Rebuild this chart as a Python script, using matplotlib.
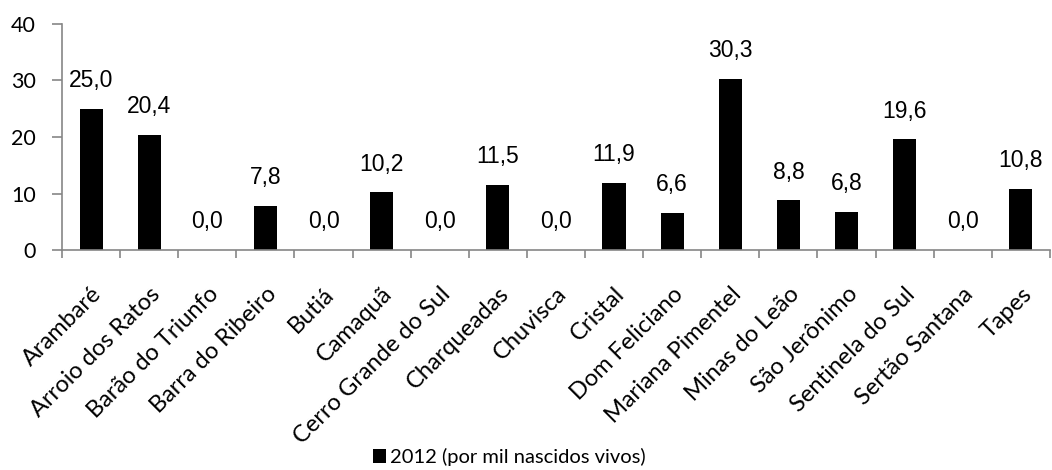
import matplotlib
matplotlib.use("Agg")
import matplotlib.pyplot as plt
import numpy as np

# data
municipios = ['Arambaré', 'Arroio dos Ratos', 'Barão do Triunfo', 'Barra do Ribeiro',
              'Butiá', 'Camaquã', 'Cerro Grande do Sul', 'Charqueadas', 'Chuvisca',
              'Cristal', 'Dom Feliciano', 'Mariana Pimentel', 'Minas do Leão',
              'São Jerônimo', 'Sentinela do Sul', 'Sertão Santana', 'Tapes']
taxa_2012 = [25.0, 20.4, 0.0, 7.8, 0.0, 10.2, 0.0, 11.5, 0.0, 11.9, 6.6, 30.3,
             8.8, 6.8, 19.6, 0.0, 10.8]
serie_label = '2012 (por mil nascidos vivos)'
yticks = [0, 10, 20, 30, 40]

label_font = ['Lato', 'DejaVu Sans']
value_font = ['Liberation Sans Narrow', 'Liberation Sans', 'DejaVu Sans']
gray = '#868686'

fig = plt.figure(figsize=(10.52, 4.70), dpi=100)
ax = fig.add_axes([0.059, 0.468, 0.939, 0.481])

x = np.arange(len(municipios))
bars = ax.bar(x, taxa_2012, width=0.4, color='black', label=serie_label)

# value labels
for xi, v in zip(x, taxa_2012):
    ax.annotate(('%.1f' % v).replace('.', ','), (xi, v), xytext=(0, 12),
                textcoords='offset points', ha='center', va='bottom',
                fontsize=16.5, family=value_font)

ax.set_xlim(-0.5, len(municipios) - 0.5)
ax.set_ylim(0, 40)
ax.set_yticks(yticks)
ax.set_yticklabels([str(t) for t in yticks], family=label_font, fontsize=15.5)

ax.set_xticks(x)
ax.set_xticklabels(municipios, rotation=45, ha='right', rotation_mode='anchor',
                   family=label_font, fontsize=17)
ax.tick_params(axis='x', which='major', length=0, pad=24)
ax.set_xticks(np.arange(-0.5, len(municipios) + 0.5, 1), minor=True)
ax.tick_params(axis='x', which='minor', length=6, color=gray, width=1.2)
ax.tick_params(axis='y', length=7, color=gray, width=1.2, pad=12)

for s in ['top', 'right']:
    ax.spines[s].set_visible(False)
for s in ['left', 'bottom']:
    ax.spines[s].set_color(gray)
    ax.spines[s].set_linewidth(1.2)

fig.legend(handles=[bars], labels=[serie_label], loc='center',
           bbox_to_anchor=(0.484, 0.028), frameon=False, handlelength=0.65,
           handleheight=0.65, handletextpad=0.2, prop={'family': label_font, 'size': 14.5})

fig.savefig('out.png', dpi=100)
